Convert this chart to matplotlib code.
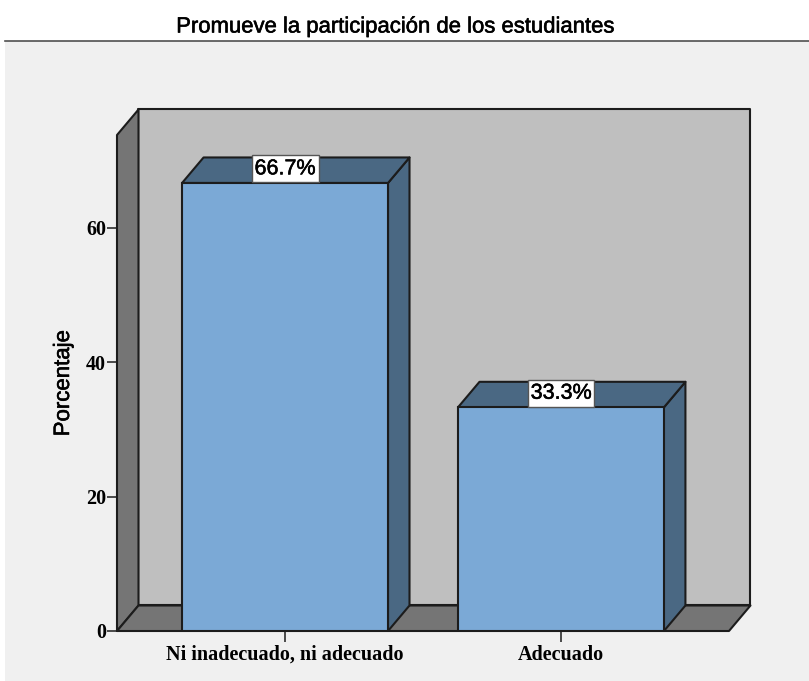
import numpy as np
import matplotlib
matplotlib.use("Agg")
import matplotlib.pyplot as plt
import matplotlib.patheffects as pe
from matplotlib.patches import Polygon, Rectangle

categories = ["Ni inadecuado, ni adecuado", "Adecuado"]
percentages = [66.7, 33.3]
y_ticks = [0, 20, 40, 60]

W, H = 809, 681
wall_gray = "#BFBFBF"
side_gray = "#757575"
bar_blue = "#7BA9D6"
bar_dark = "#4A6883"
line_col = "#1C1C1C"

# thin outline to give the sans text a heavier weight
heavy = [pe.withStroke(linewidth=0.4, foreground="black")]

fig = plt.figure(figsize=(W / 100, H / 100), dpi=100, facecolor="white")

# panel behind the chart, with the rule under the title
fig.add_artist(Rectangle((5 / W, 0), 1 - 5 / W, 1 - 41 / H, transform=fig.transFigure,
                         facecolor="#F0F0F0", edgecolor="none", zorder=-2))
fig.add_artist(plt.Line2D([5 / W, 1], [1 - 41 / H, 1 - 41 / H], color="#505050", lw=1.2, zorder=-1))
fig.text(396 / W, 1 - 27 / H, "Promueve la participación de los estudiantes",
         family="Liberation Sans", fontsize=15.9, ha="center", va="center", color="black",
         path_effects=heavy)

ax = fig.add_axes([117 / W, 1 - 631 / H, 612 / W, 496 / H])
ax.set_xlim(-0.609, 1.609)
ax.set_ylim(0, 73.84)
ax.patch.set_visible(False)

# depth of the 3D box, in data units
dx = 21.5 / 276
dy = 25.5 / 6.717
x0, x1 = ax.get_xlim()
ytop = ax.get_ylim()[1]

def face(points, color, z):
    ax.add_patch(Polygon(points, closed=True, facecolor=color, edgecolor=line_col,
                         lw=1.5, joinstyle="round", zorder=z, clip_on=False))

# back wall, left wall and floor
face([(x0 + dx, dy), (x1 + dx, dy), (x1 + dx, ytop + dy), (x0 + dx, ytop + dy)], wall_gray, 1)
face([(x0, 0), (x0 + dx, dy), (x0 + dx, ytop + dy), (x0, ytop)], side_gray, 2)
face([(x0, 0), (x1, 0), (x1 + dx, dy), (x0 + dx, dy)], side_gray, 2)

bar_w = 206 / 276
xpos = np.arange(len(categories))
for x, v in zip(xpos, percentages):
    left, right = x - bar_w / 2, x + bar_w / 2
    face([(right, 0), (right + dx, dy), (right + dx, v + dy), (right, v)], bar_dark, 3)
    face([(left, v), (right, v), (right + dx, v + dy), (left + dx, v + dy)], bar_dark, 3)
    ax.bar(x, v, width=bar_w, color=bar_blue, edgecolor=line_col, lw=1.5, zorder=4)
    ax.text(x, v + 2.1, f"{v:.1f}%", family="Liberation Sans", fontsize=15.5,
            ha="center", va="center", color="black", zorder=6, path_effects=heavy,
            bbox=dict(boxstyle="square,pad=0.14", facecolor="white", edgecolor="#555555", lw=1))

for s in ["top", "right", "left", "bottom"]:
    ax.spines[s].set_visible(False)
ax.set_xticks(xpos, categories, family="Liberation Serif", fontsize=14.5, fontweight="bold")
ax.set_yticks(y_ticks, [str(t) for t in y_ticks], family="Liberation Serif", fontsize=14.5,
              fontweight="bold")
ax.tick_params(axis="x", length=8, width=1.1, color=line_col, pad=2)
ax.tick_params(axis="y", length=7, width=1.1, color=line_col, pad=1)
ax.set_ylabel("Porcentaje", family="Liberation Sans", fontsize=16, path_effects=heavy)
ax.yaxis.set_label_coords((74 - 117) / 612, (631 - 383) / 496)

fig.savefig("out.png", dpi=100, facecolor=fig.get_facecolor())
